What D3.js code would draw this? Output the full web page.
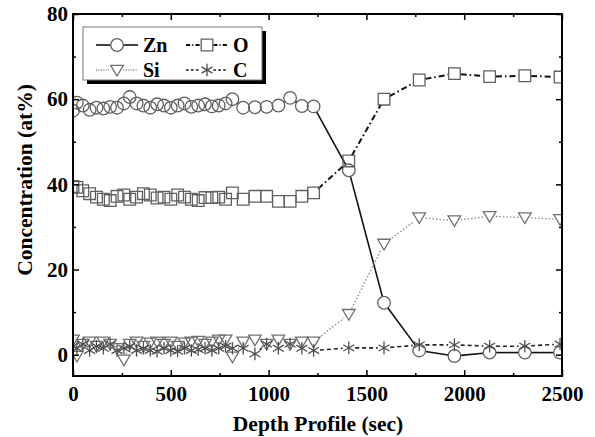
<!DOCTYPE html>
<html>
<head>
<meta charset="utf-8">
<title>Depth Profile</title>
<script src="https://cdnjs.cloudflare.com/ajax/libs/d3/7.8.5/d3.min.js"></script>
<style>
  html, body { margin: 0; padding: 0; background: #fff; }
  svg text { font-family: 'Liberation Serif', 'Times New Roman', serif; font-weight: bold; fill: #000; }
</style>
</head>
<body>
<div id="chart"></div>
<script>
// sputter time (sec) shared by all elements
const depth = [0, 20, 50, 85, 120, 155, 190, 225, 260, 290, 325, 360, 395, 430, 465, 500, 535, 570, 605, 640,
  675, 710, 745, 780, 815, 870, 930, 990, 1050, 1110, 1170, 1230, 1410, 1590, 1770, 1950, 2130, 2310, 2490];

const zn = [57.3, 59.2, 58.5, 57.5, 58, 57.8, 58.2, 58, 59, 60.5, 59, 58.5, 58, 58.8, 58.5, 58, 58.5, 59, 58.2, 58.5,
  58.8, 58.3, 58.5, 59, 60, 58, 58.1, 58.2, 58.5, 60.3, 58.4, 58.3, 43.3, 12.2, 1.0, -0.3, 0.5, 0.5, 0.5];
const oxy = [39.5, 39.3, 38.5, 37.8, 37, 36.5, 36.2, 37.2, 37.5, 36.5, 37, 37.8, 37.5, 36.8, 37, 36.5, 37.5, 37, 36.5, 36.2,
  36.9, 36.9, 37, 36.5, 38, 36.5, 37.2, 37.2, 36, 36, 37.2, 38, 45.5, 60, 64.5, 66, 65.3, 65.5, 65.2];
const si = [3.5, -0.3, 2.5, 3, 2, 3, 2.5, 1.5, -1.2, 2.5, 3, 2, 2.8, 3, 2.5, 3, 2, 2.8, 3, 3.2,
  2.5, 3, 3.5, 3.5, -0.5, 3, 3.5, 2.5, 3.5, 2.5, 3, 3, 9.5, 26, 32.2, 31.5, 32.5, 32.2, 31.8];
const carbon = [2, 1.5, 2.5, 1, 2, 1.5, 2.5, 1, 1.5, 2, 1, 1.5, 1, 0.8, 1.5, 1, 0.8, 1.5, 1, 1.2,
  1.5, 1, 1.5, 2, 1.5, 1.5, 0.2, 2.5, 1.5, 2.5, 1.5, 1, 1.6, 1.6, 2.3, 2.3, 2, 2, 2.5];

const xTicks = [0, 500, 1000, 1500, 2000, 2500];
const xMinor = [250, 750, 1250, 1750, 2250];
const yTicks = [0, 20, 40, 60, 80];
const yMinor = [10, 30, 50, 70];

const series = [
  { name: 'Zn', values: zn, marker: 'circle', dash: null, lineColor: '#111', lineWidth: 1.6, markColor: '#606060' },
  { name: 'O', values: oxy, marker: 'square', dash: '6,3,1.5,3', lineColor: '#111', lineWidth: 2, markColor: '#606060' },
  { name: 'Si', values: si, marker: 'triangle', dash: '1.5,2', lineColor: '#888', lineWidth: 1.3, markColor: '#707070' },
  { name: 'C', values: carbon, marker: 'star', dash: '4,3', lineColor: '#222', lineWidth: 1.6, markColor: '#505050' }
];

const width = 595, height = 437;
const margin = { top: 14, right: 33, bottom: 61, left: 73 };

const svg = d3.select('#chart').append('svg')
  .attr('width', width)
  .attr('height', height);

const x = d3.scaleLinear().domain([0, 2500]).range([margin.left, width - margin.right]);
const y = d3.scaleLinear().domain([-5, 80]).range([height - margin.bottom, margin.top]);

const R = 6.3; // marker radius

function markerPath(type) {
  const r = R;
  if (type === 'circle') return d3.arc()({ innerRadius: r, outerRadius: r, startAngle: 0, endAngle: 2 * Math.PI });
  if (type === 'square') return `M${-r + 0.5},${-r + 0.5}H${r - 0.5}V${r - 0.5}H${-r + 0.5}Z`;
  if (type === 'triangle') return `M${-r},${-r * 0.75}H${r}L0,${r * 0.95}Z`;
  // asterisk: vertical plus two diagonals
  let p = '';
  [90, 30, 150].forEach(a => {
    const dx = Math.cos(a * Math.PI / 180) * r, dy = Math.sin(a * Math.PI / 180) * r;
    p += `M${-dx},${-dy}L${dx},${dy}`;
  });
  return p;
}

// line segments broken at markers
function gapSegments(values, r) {
  const segs = [];
  for (let i = 1; i < depth.length; i++) {
    const x1 = x(depth[i - 1]), y1 = y(values[i - 1]);
    const x2 = x(depth[i]), y2 = y(values[i]);
    const dx = x2 - x1, dy = y2 - y1, len = Math.hypot(dx, dy);
    if (len <= 2 * r) continue;
    const ux = dx / len, uy = dy / len;
    segs.push([x1 + ux * r, y1 + uy * r, x2 - ux * r, y2 - uy * r]);
  }
  return segs;
}

svg.append('clipPath').attr('id', 'plot-clip')
  .append('rect')
  .attr('x', x(0)).attr('y', y(80))
  .attr('width', x(2500) - x(0)).attr('height', y(-5) - y(80));

const plot = svg.append('g').attr('clip-path', 'url(#plot-clip)');

series.forEach(s => {
  const g = plot.append('g');
  g.selectAll('line')
    .data(gapSegments(s.values, R))
    .enter()
    .append('line')
    .attr('x1', d => d[0]).attr('y1', d => d[1])
    .attr('x2', d => d[2]).attr('y2', d => d[3])
    .attr('stroke', s.lineColor)
    .attr('stroke-width', s.lineWidth)
    .attr('stroke-dasharray', s.dash);

  g.selectAll('path')
    .data(s.values)
    .enter()
    .append('path')
    .attr('transform', (d, i) => `translate(${x(depth[i])},${y(d)})`)
    .attr('d', markerPath(s.marker))
    .attr('fill', 'none')
    .attr('stroke', s.markColor)
    .attr('stroke-width', 1.3);
});

// axes with inward ticks on all four sides
function styleAxis(g) {
  g.select('.domain').remove();
  g.selectAll('line').attr('stroke', '#000').attr('stroke-width', 1.5);
  g.selectAll('text').style('font-size', '21px').attr('fill', '#000');
}

svg.append('g')
  .attr('transform', `translate(0,${y(-5)})`)
  .call(d3.axisBottom(x).tickValues(xTicks).tickSize(-6).tickPadding(10).tickFormat(d3.format('d')))
  .call(styleAxis);
svg.append('g')
  .attr('transform', `translate(0,${y(-5)})`)
  .call(d3.axisBottom(x).tickValues(xMinor).tickSize(-3).tickFormat(''))
  .call(styleAxis);
svg.append('g')
  .attr('transform', `translate(0,${y(80)})`)
  .call(d3.axisTop(x).tickValues(xTicks).tickSize(-6).tickFormat(''))
  .call(styleAxis);
svg.append('g')
  .attr('transform', `translate(0,${y(80)})`)
  .call(d3.axisTop(x).tickValues(xMinor).tickSize(-3).tickFormat(''))
  .call(styleAxis);

svg.append('g')
  .attr('transform', `translate(${x(0)},0)`)
  .call(d3.axisLeft(y).tickValues(yTicks).tickSize(-6).tickPadding(5))
  .call(styleAxis);
svg.append('g')
  .attr('transform', `translate(${x(0)},0)`)
  .call(d3.axisLeft(y).tickValues(yMinor).tickSize(-3).tickFormat(''))
  .call(styleAxis);
svg.append('g')
  .attr('transform', `translate(${x(2500)},0)`)
  .call(d3.axisRight(y).tickValues(yTicks).tickSize(-6).tickFormat(''))
  .call(styleAxis);
svg.append('g')
  .attr('transform', `translate(${x(2500)},0)`)
  .call(d3.axisRight(y).tickValues(yMinor).tickSize(-3).tickFormat(''))
  .call(styleAxis);

// frame
svg.append('rect')
  .attr('x', x(0)).attr('y', y(80))
  .attr('width', x(2500) - x(0)).attr('height', y(-5) - y(80))
  .attr('fill', 'none')
  .attr('stroke', '#000')
  .attr('stroke-width', 2);

// axis titles
svg.append('text')
  .attr('x', 318)
  .attr('y', 431)
  .attr('text-anchor', 'middle')
  .style('font-size', '21.5px')
  .text('Depth Profile (sec)');

svg.append('text')
  .attr('transform', `translate(32,180) rotate(-90)`)
  .attr('text-anchor', 'middle')
  .style('font-size', '21.5px')
  .text('Concentration (at%)');

// legend
const legend = svg.append('g');
legend.append('rect')
  .attr('x', 87).attr('y', 31).attr('width', 179).attr('height', 53)
  .attr('fill', '#000');
legend.append('rect')
  .attr('x', 83).attr('y', 27).attr('width', 179).attr('height', 53)
  .attr('fill', '#fff').attr('stroke', '#777').attr('stroke-width', 1);

const legendPos = [[117, 45], [207, 45], [117, 70], [207, 70]];
series.forEach((s, k) => {
  const [cx, cy] = legendPos[k];
  const lg = legend.append('g');
  [[cx - 21, cx - R], [cx + R, cx + 21]].forEach(([a, b]) => {
    lg.append('line')
      .attr('x1', a).attr('x2', b).attr('y1', cy).attr('y2', cy)
      .attr('stroke', s.lineColor).attr('stroke-width', s.lineWidth)
      .attr('stroke-dasharray', s.dash ? s.dash.split(',').map(v => v * 0.7).join(',') : null);
  });
  lg.append('path')
    .attr('transform', `translate(${cx},${cy})`)
    .attr('d', markerPath(s.marker))
    .attr('fill', 'none')
    .attr('stroke', s.markColor)
    .attr('stroke-width', 1.3);
  lg.append('text')
    .attr('x', cx + 26).attr('y', cy + 7)
    .style('font-size', '20px')
    .text(s.name);
});
</script>
</body>
</html>
